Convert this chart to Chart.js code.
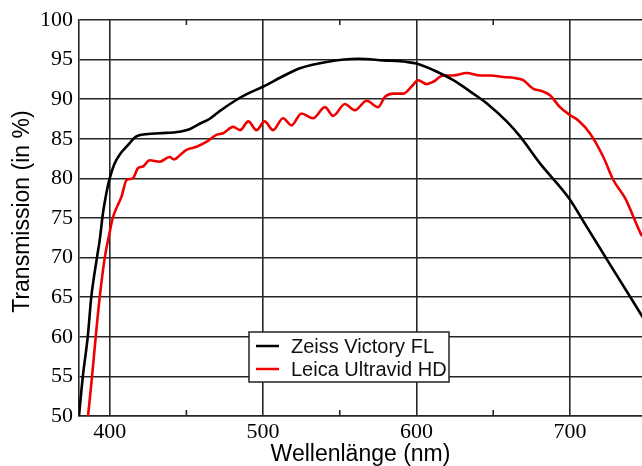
<!DOCTYPE html>
<html>
<head>
<meta charset="utf-8">
<script src="https://cdn.jsdelivr.net/npm/chart.js@4.4.1/dist/chart.umd.min.js"></script>
<style>
  html, body { margin: 0; padding: 0; background: #fff; }
  #wrap { width: 642px; height: 466px; }
</style>
</head>
<body>
<div id="wrap"><canvas id="grafica" width="642" height="466"></canvas></div>
<script>
// Zeiss Victory FL (schwarz)
var zeissNm = [380, 382.5, 385.7, 388, 391.7, 393.5, 395.6, 397.8, 400, 403, 406.5, 411, 417.4, 425, 432.6, 445.6, 452, 458.7, 465, 471.7, 482.5, 490, 500.2, 512, 524, 541.4, 562, 578.4, 593.6, 600, 613, 624, 637, 645.7, 658.8, 667.5, 680.5, 699.4, 710, 725, 750];
var zeissT  = [50, 55, 60, 65, 70, 72.2, 75.6, 78.1, 80, 81.8, 83, 84, 85.3, 85.6, 85.7, 85.9, 86.2, 86.9, 87.5, 88.5, 89.9, 90.7, 91.6, 92.8, 93.9, 94.7, 95.1, 94.9, 94.7, 94.5, 93.5, 92.4, 90.7, 89.5, 87.2, 85.3, 81.9, 77.5, 74.2, 69.5, 61.7];

// Leica Ultravid HD (rot)
var leicaNm = [385.9, 388.5, 390.9, 393.5, 396.8, 400, 402, 405, 407.7, 411, 415, 418.5, 421.7, 426, 432.6, 439, 442, 445.6, 450, 456.6, 463, 469.6, 474, 480.5, 485, 490.4, 495.7, 501, 506.5, 513, 518.5, 525, 532.6, 540.3, 545.7, 553.3, 559.8, 567.5, 575, 579.4, 584.8, 591.3, 596.8, 601.1, 606.6, 610.9, 617.4, 624, 632.7, 641.4, 648, 656.6, 663.2, 669.6, 676.2, 680.5, 687, 693.5, 700, 705.5, 713, 721.8, 728.3, 736, 747, 750];
var leicaT  = [50, 55, 60, 65, 70, 73.2, 75, 76.5, 77.7, 79.8, 80, 81.3, 81.5, 82.3, 82.1, 82.7, 82.4, 82.9, 83.6, 84, 84.6, 85.5, 85.7, 86.5, 86.1, 87.2, 86.1, 87.2, 86.1, 87.6, 86.7, 88.2, 87.6, 89, 87.9, 89.4, 88.6, 89.8, 89, 90.3, 90.7, 90.7, 91.6, 92.4, 91.9, 92.2, 93, 93, 93.3, 93, 93, 92.8, 92.7, 92.4, 91.3, 91.1, 90.5, 89, 88, 87.3, 85.7, 82.7, 79.8, 77.5, 72.7, 71.8];

var serien = ["Zeiss Victory FL", "Leica Ultravid HD"];
var xTicks = [400, 500, 600, 700];
var xMinor = [450, 550, 650];
var yTicks = [50, 55, 60, 65, 70, 75, 80, 85, 90, 95, 100];

function punkte(xs, ys) {
    var p = [];
    for (var i = 0; i < xs.length; i++) {
        p.push({ x: xs[i], y: ys[i] });
    }
    return p;
}

var gitter = "#262626";

// kleine Striche oben und unten bei 450/550/650
var minorTicks = {
    id: "minorTicks",
    afterDraw: function (chart) {
        var ctx = chart.ctx;
        var x = chart.scales.x;
        var a = chart.chartArea;
        ctx.save();
        ctx.strokeStyle = gitter;
        ctx.lineWidth = 1.6;
        xMinor.forEach(function (v) {
            var px = x.getPixelForValue(v);
            ctx.beginPath();
            ctx.moveTo(px, a.top);
            ctx.lineTo(px, a.top + 5);
            ctx.moveTo(px, a.bottom);
            ctx.lineTo(px, a.bottom - 6);
            ctx.stroke();
        });
        ctx.restore();
    }
};

// Legende als Kasten im Diagramm
var legendeBox = {
    id: "legendeBox",
    afterDraw: function (chart) {
        var ctx = chart.ctx;
        var bx = 249, by = 332, bw = 200, bh = 50;
        ctx.save();
        ctx.fillStyle = "#fff";
        ctx.fillRect(bx, by, bw, bh);
        ctx.strokeStyle = "#222";
        ctx.lineWidth = 1.5;
        ctx.strokeRect(bx, by, bw, bh);
        ctx.font = "20px 'Liberation Sans', Arial, sans-serif";
        ctx.textBaseline = "middle";
        chart.data.datasets.forEach(function (ds, i) {
            var y = by + 14 + i * 23;
            ctx.strokeStyle = ds.borderColor;
            ctx.lineWidth = 2.5;
            ctx.beginPath();
            ctx.moveTo(bx + 7, y);
            ctx.lineTo(bx + 30, y);
            ctx.stroke();
            ctx.fillStyle = "#111";
            ctx.fillText(ds.label, bx + 42, y + 1);
        });
        ctx.restore();
    }
};

var miCanvas = document.getElementById("grafica").getContext("2d");

var chart = new Chart(miCanvas, {
    type: "line",
    data: {
        datasets: [
            {
                label: serien[0],
                data: punkte(zeissNm, zeissT),
                borderColor: "#000000",
                borderWidth: 2.6,
                pointRadius: 0,
                cubicInterpolationMode: "monotone",
                fill: false
            },
            {
                label: serien[1],
                data: punkte(leicaNm, leicaT),
                borderColor: "#ee0000",
                borderWidth: 2.6,
                pointRadius: 0,
                cubicInterpolationMode: "monotone",
                fill: false
            }
        ]
    },
    options: {
        responsive: false,
        animation: false,
        layout: { padding: { top: 20, left: 0, right: 0, bottom: 0 } },
        plugins: {
            legend: { display: false },
            tooltip: { enabled: false }
        },
        scales: {
            x: {
                type: "linear",
                min: 380,
                max: 747,
                afterBuildTicks: function (axis) {
                    axis.ticks = xTicks.map(function (v) { return { value: v }; });
                },
                afterFit: function (scale) { scale.height = 50; },
                grid: { color: gitter, lineWidth: 1.6, drawTicks: false },
                border: { display: true, color: gitter, width: 1.6 },
                ticks: {
                    color: "#000",
                    padding: 3,
                    maxRotation: 0,
                    font: { family: "'Liberation Serif', 'Times New Roman', serif", size: 22 }
                },
                title: {
                    display: true,
                    text: "Wellenlänge (nm)",
                    color: "#000",
                    padding: { top: 0, bottom: 0 },
                    font: { family: "'Liberation Sans', Arial, sans-serif", size: 23, lineHeight: 1 }
                }
            },
            y: {
                min: 50,
                max: 100,
                afterBuildTicks: function (axis) {
                    axis.ticks = yTicks.map(function (v) { return { value: v }; });
                },
                afterFit: function (scale) { scale.width = 79; },
                grid: { color: gitter, lineWidth: 1.6, drawTicks: false },
                border: { display: true, color: gitter, width: 1.6 },
                ticks: {
                    color: "#000",
                    padding: 6,
                    font: { family: "'Liberation Serif', 'Times New Roman', serif", size: 22 }
                },
                title: {
                    display: true,
                    text: "  Transmission (in %)",
                    color: "#000",
                    padding: { top: 11, bottom: 0 },
                    font: { family: "'Liberation Sans', Arial, sans-serif", size: 23, lineHeight: 1 }
                }
            }
        }
    },
    plugins: [minorTicks, legendeBox]
});
</script>
</body>
</html>
